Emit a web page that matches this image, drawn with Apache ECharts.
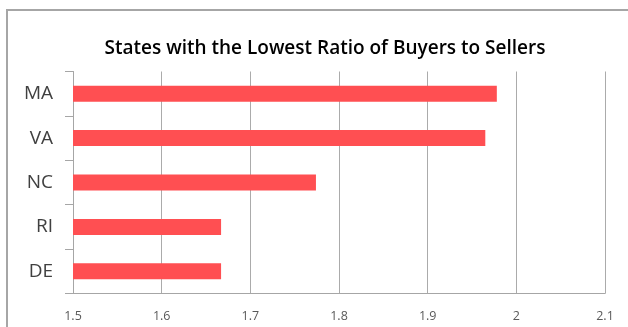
<!DOCTYPE html>
<html>
<head>
<meta charset="utf-8">
<script src="https://cdn.jsdelivr.net/npm/echarts@6/dist/echarts.min.js"></script>
<style>html,body{margin:0;padding:0;background:#fff}#c{width:628px;height:327px}</style>
</head>
<body>
<div id="c"></div>
<script>
var categories = ['DE', 'RI', 'NC', 'VA', 'MA'];
var ratios = [1.667, 1.667, 1.774, 1.965, 1.978];
var xMin = 1.5, xMax = 2.1, xStep = 0.1;
var titleText = 'States with the Lowest Ratio of Buyers to Sellers';

var chart = echarts.init(document.getElementById('c'), null, {renderer: 'canvas'});
chart.setOption({
  animation: false,
  backgroundColor: '#fff',
  title: {
    text: titleText,
    left: 320, top: 34, textAlign: 'center',
    textStyle: {fontFamily: 'Open Sans', fontWeight: 600, fontSize: 19, color: '#000'}
  },
  graphic: [{
    type: 'rect', shape: {x: 7, y: 10, width: 660, height: 360},
    style: {fill: null, stroke: '#a6a6a6', lineWidth: 2}, silent: true
  }],
  grid: {left: 73, right: 23, top: 71.5, bottom: 33.5, containLabel: false},
  xAxis: {
    type: 'value', min: xMin, max: xMax, interval: xStep,
    axisLine: {show: true, lineStyle: {color: '#a6a6a6', width: 1}},
    axisTick: {show: false},
    splitLine: {show: true, lineStyle: {color: '#ababab', width: 1}},
    axisLabel: {
      color: '#595959', fontFamily: 'Open Sans', fontSize: 12.5, margin: 16,
      formatter: function (v) { return String(Math.round(v * 10) / 10); }
    }
  },
  yAxis: {
    type: 'category', data: categories,
    axisLine: {show: true, lineStyle: {color: '#a6a6a6', width: 1}},
    axisTick: {show: true, length: 8, lineStyle: {color: '#a6a6a6'}},
    axisLabel: {color: '#404040', fontFamily: 'Open Sans', fontSize: 19, margin: 20}
  },
  series: [{
    type: 'bar', data: ratios, barWidth: 16,
    itemStyle: {color: '#ff4f52'}
  }]
});
</script>
</body>
</html>
